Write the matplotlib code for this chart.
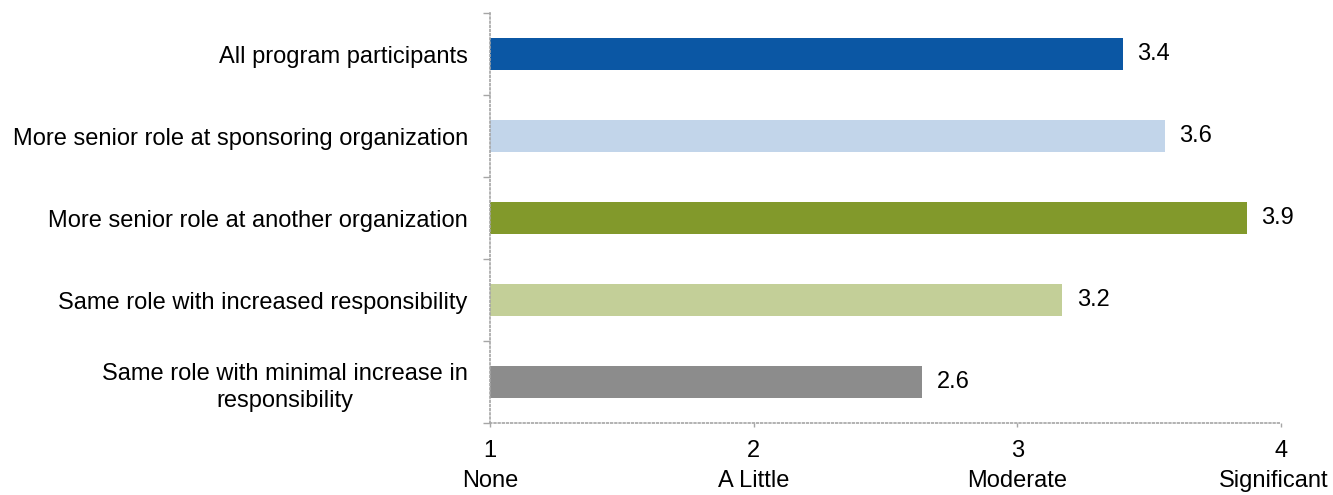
import matplotlib
matplotlib.use("Agg")
import matplotlib.pyplot as plt
import numpy as np

categories = [
    "All program participants",
    "More senior role at sponsoring organization",
    "More senior role at another organization",
    "Same role with increased responsibility",
    "Same role with minimal increase in\nresponsibility",
]
values = [3.40, 3.56, 3.87, 3.17, 2.64]
value_labels = ["3.4", "3.6", "3.9", "3.2", "2.6"]
colors = ["#0B57A4", "#C2D5EA", "#82992B", "#C3CF98", "#8C8C8C"]
x_ticks = [1, 2, 3, 4]
x_tick_numbers = ["1", "2", "3", "4"]
x_tick_words = ["None", "A Little", "Moderate", "Significant"]
word_shift_pt = [0, 0, 0, -5]   # nudge so the last word stays inside the figure

plt.rcParams['font.family'] = ['Liberation Sans', 'DejaVu Sans']
FS = 17

fig = plt.figure(figsize=(13.33, 4.95), dpi=100)
ax = fig.add_axes([490/1333, (495-423)/495, (1281-490)/1333, (423-13)/495])

y = np.arange(len(categories))
ax.barh(y, np.array(values) - 1, left=1, height=0.4, color=colors)
for yi, v, lab in zip(y, values, value_labels):
    ax.text(v + 0.055, yi, lab, va='center', ha='left', fontsize=FS, color='#000000')

ax.set_xlim(1, 4)
ax.set_ylim(len(categories) - 0.5, -0.5)
ax.set_yticks(y)
ax.set_yticklabels(categories, fontsize=FS, color='#000000', ha='right',
                   multialignment='center', linespacing=1.35)
ax.tick_params(axis='y', which='major', length=0, pad=16)
ax.set_yticks(np.arange(-0.5, len(categories), 1.0), minor=True)
ax.tick_params(axis='y', which='minor', length=5, color='#A6A6A6', width=1, direction='out')

ax.set_xticks(x_ticks)
ax.set_xticklabels(x_tick_numbers, fontsize=FS, color='#000000')
ax.tick_params(axis='x', length=3, color='#A6A6A6', width=1, pad=9)

for xt, w, dx in zip(x_ticks, x_tick_words, word_shift_pt):
    ax.annotate(w, xy=(xt, 0), xycoords=('data', 'axes fraction'),
                xytext=(dx, -42), textcoords='offset points',
                ha='center', va='center', fontsize=FS, color='#000000',
                annotation_clip=False)

for s in ['top', 'right']:
    ax.spines[s].set_visible(False)
for s in ['left', 'bottom']:
    ax.spines[s].set_linestyle((0, (1, 1.5)))
    ax.spines[s].set_color('#A6A6A6')
    ax.spines[s].set_linewidth(1.2)

fig.savefig("out.png", dpi=100)
